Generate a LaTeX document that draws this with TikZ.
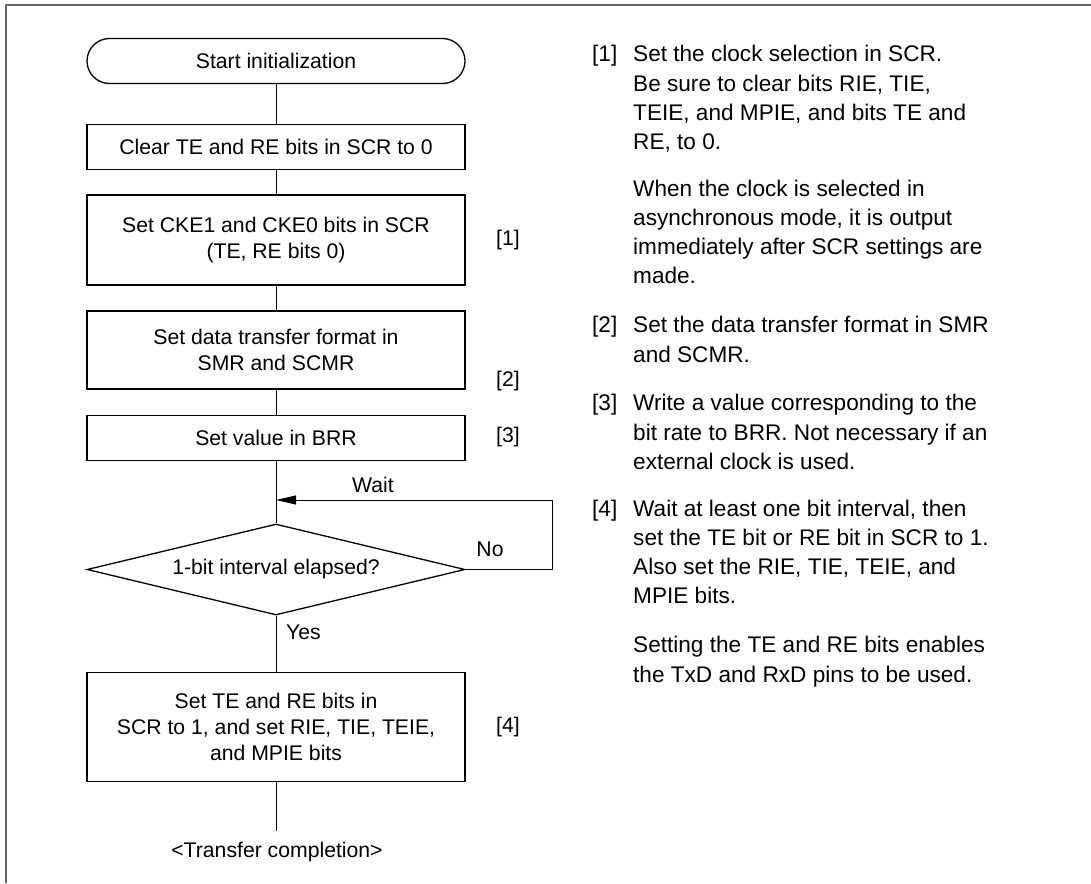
\documentclass[tikz,border=0pt]{standalone}
\usepackage{fontspec}
\setmainfont{Liberation Sans}
\usetikzlibrary{shapes.geometric,arrows.meta}
\newcommand{\notelines}[1]{\vtop{\baselineskip=29.3pt\lineskiplimit=-100pt\halign{##\hfil\cr#1\crcr}}}
\begin{document}
\begin{tikzpicture}[x=1pt,y=-1pt,
  every node/.style={font=\fontsize{21.2}{26}\selectfont},
  procbox/.style={draw, line width=1.3pt, rectangle, minimum width=378pt, inner sep=0pt, align=center},
  termbox/.style={draw, line width=1.3pt, rectangle, rounded corners=22.5pt, minimum width=378pt, minimum height=45pt, inner sep=0pt},
  decbox/.style={draw, line width=1.3pt, diamond, aspect=4.15, minimum width=378pt, minimum height=91pt, inner sep=0pt},
  flow/.style={line width=1pt},
  steplabel/.style={anchor=center, inner sep=0pt},
  notenum/.style={anchor=base west, inner sep=0pt, font=\fontsize{22.6}{29.3}\selectfont},
  notetext/.style={anchor=base west, inner sep=0pt, font=\fontsize{22.6}{29.3}\selectfont},
  frameline/.style={draw=black!60, line width=1.5pt}
]
\useasboundingbox (0,0) rectangle (1091,883);
\draw[frameline] (6,883) -- (6,5) -- (1091,5);

% flowchart
\node[termbox] (start) at (276,61) {Start initialization};
\node[procbox, minimum height=45pt] (clear) at (276,147) {Clear TE and RE bits in SCR to 0};
\node[procbox, minimum height=90pt] (cke) at (276,240) {Set CKE1 and CKE0 bits in SCR\\(TE, RE bits 0)};
\node[procbox, minimum height=78pt] (fmt) at (276,350) {Set data transfer format in\\SMR and SCMR};
\node[procbox, minimum height=45pt] (brr) at (276,438) {Set value in BRR};
\node[decbox] (dec) at (276,569.5) {1-bit interval elapsed?};
\node[procbox, minimum height=109pt] (fin) at (276,727) {Set TE and RE bits in\\SCR to 1, and set RIE, TIE, TEIE,\\and MPIE bits};
\coordinate (join) at (276,500);
\coordinate (loopr) at (552,569.5);
\coordinate (loopt) at (552,500);
\coordinate (endpt) at (276,831);

\draw[flow] (start) -- (clear);
\draw[flow] (clear) -- (cke);
\draw[flow] (cke) -- (fmt);
\draw[flow] (fmt) -- (brr);
\draw[flow] (brr) -- (dec);
\draw[flow] (dec) -- (fin);
\draw[flow] (fin) -- (endpt);
\draw[flow, -{Triangle[length=20pt,width=9pt]}] (dec.east) -- (loopr) -- (loopt) -- (join);

\node[anchor=base, inner sep=0pt] (waitlbl) at (373,492) {Wait};
\node[anchor=base, inner sep=0pt] (nolbl) at (490,556) {No};
\node[anchor=base west, inner sep=0pt] (yeslbl) at (286,639) {Yes};
\node[anchor=base, inner sep=0pt] (endlbl) at (277,857) {<Transfer completion>};

\node[steplabel] (s1) at (508,240) {[1]};
\node[steplabel] (s2) at (508,381) {[2]};
\node[steplabel] (s3) at (508,437) {[3]};
\node[steplabel] (s4) at (508,727) {[4]};

% notes
\node[notenum] (n1) at (592,61.7) {[1]};
\node[notetext] (t1) at (633,61.7) {\notelines{Set the clock selection in SCR.\cr Be sure to clear bits RIE, TIE,\cr TEIE, and MPIE, and bits TE and\cr RE, to 0.}};
\node[notetext] (t1b) at (633,196) {\notelines{When the clock is selected in\cr asynchronous mode, it is output\cr immediately after SCR settings are\cr made.}};
\node[notenum] (n2) at (592,332.7) {[2]};
\node[notetext] (t2) at (633,332.7) {\notelines{Set the data transfer format in SMR\cr and SCMR.}};
\node[notenum] (n3) at (592,410.7) {[3]};
\node[notetext] (t3) at (633,410.7) {\notelines{Write a value corresponding to the\cr bit rate to BRR. Not necessary if an\cr external clock is used.}};
\node[notenum] (n4) at (592,516) {[4]};
\node[notetext] (t4) at (633,516) {\notelines{Wait at least one bit interval, then\cr set the TE bit or RE bit in SCR to 1.\cr Also set the RIE, TIE, TEIE, and\cr MPIE bits.}};
\node[notetext] (t4b) at (633,652.7) {\notelines{Setting the TE and RE bits enables\cr the TxD and RxD pins to be used.}};
\end{tikzpicture}
\end{document}
